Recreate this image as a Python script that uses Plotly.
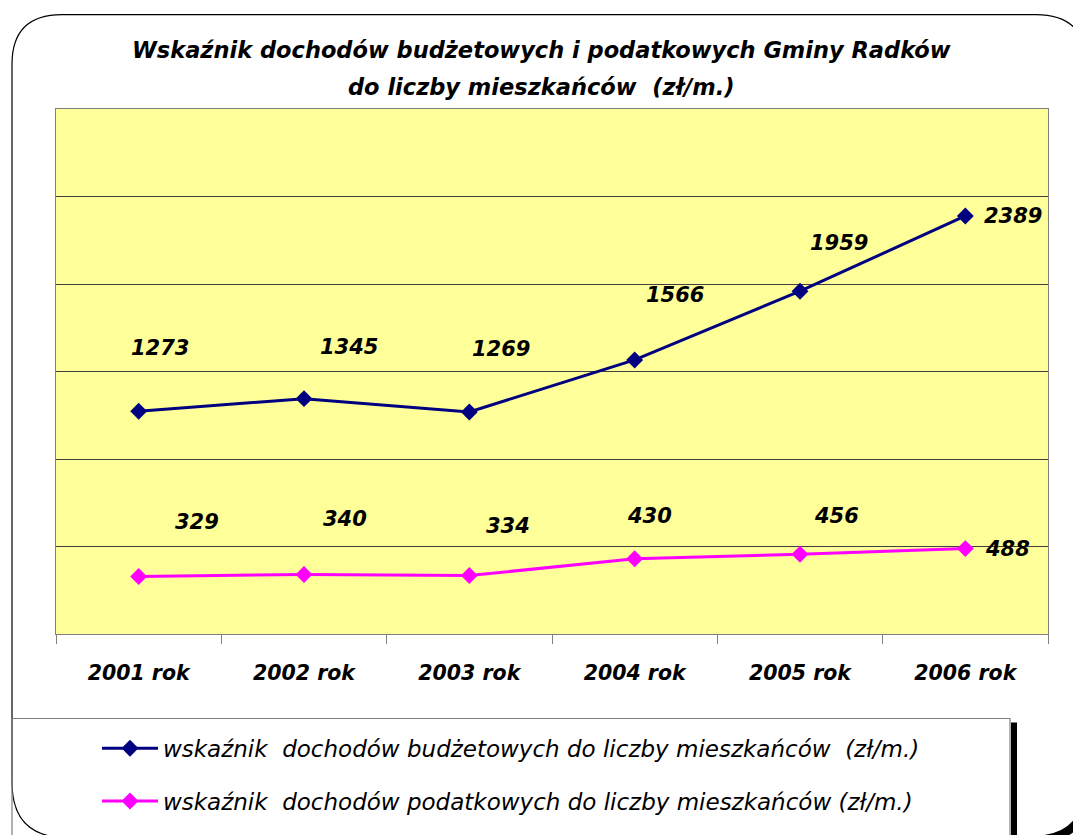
import plotly.graph_objects as go

categories = ["2001 rok", "2002 rok", "2003 rok", "2004 rok", "2005 rok", "2006 rok"]
budget_values = [1273, 1345, 1269, 1566, 1959, 2389]
tax_values = [329, 340, 334, 430, 456, 488]
budget_name = "wskaźnik  dochodów budżetowych do liczby mieszkańców  (zł/m.)"
tax_name = "wskaźnik  dochodów podatkowych do liczby mieszkańców (zł/m.)"
title_line1 = "Wskaźnik dochodów budżetowych i podatkowych Gminy Radków"
title_line2 = "do liczby mieszkańców  (zł/m.)"

# label offsets in pixels (dx, dy up)
budget_label_offsets = [(21, 63), (45, 52), (32, 63), (40, 65), (39, 48), (48, 0)]
tax_label_offsets = [(58, 54), (41, 56), (39, 50), (15, 43), (36, 38), (42, 0)]

# page has an 8px body margin
OFF = 8
W, H = 1081 - OFF, 835 - OFF
# target plot area in screenshot pixels
L, R, T, B = 56, 1048, 109, 637
PW, PH = R - L, B - T


def px(x):
    return (x - L) / PW


def py(y):
    return (B - y) / PH


def P(x, y):
    return f"{px(x):.5f},{py(y):.5f}"


NAVY = "#000080"
MAG = "#FF00FF"
FONT = "DejaVu Sans"

fig = go.Figure()
fig.add_trace(go.Scatter(
    x=categories, y=budget_values, name=budget_name, mode="lines+markers",
    line=dict(color=NAVY, width=3), marker=dict(symbol="diamond", size=13, color=NAVY),
    legend="legend", hoverinfo="skip"))
fig.add_trace(go.Scatter(
    x=categories, y=tax_values, name=tax_name, mode="lines+markers",
    line=dict(color=MAG, width=3), marker=dict(symbol="diamond", size=13, color=MAG),
    legend="legend2", hoverinfo="skip"))

annotations = []
for vals, offs in ((budget_values, budget_label_offsets), (tax_values, tax_label_offsets)):
    for c, v, (dx, dy) in zip(categories, vals, offs):
        annotations.append(dict(
            x=c, y=v, xref="x", yref="y", text=f"<b><i>{v}</i></b>", showarrow=False,
            xshift=dx, yshift=dy, font=dict(family=FONT, size=21, color="#000000")))

annotations.append(dict(x=px(541), y=py(50), xref="paper", yref="paper",
                        text=f"<b><i>{title_line1}</i></b>", showarrow=False,
                        xanchor="center", yanchor="middle",
                        font=dict(family=FONT, size=22.5, color="#000000")))
annotations.append(dict(x=px(541), y=py(87), xref="paper", yref="paper",
                        text=f"<b><i>{title_line2}</i></b>", showarrow=False,
                        xanchor="center", yanchor="middle",
                        font=dict(family=FONT, size=22.5, color="#000000")))

# outer rounded frame
fl, ft, fr, fb, rr = 12, 14, 1086, 842, 56
frame_path = (f"M {P(fl+50, ft)} L {P(fr-50, ft)} Q {P(fr, ft)} {P(fr, ft+50)} "
              f"L {P(fr, fb-rr)} Q {P(fr, fb)} {P(fr-rr, fb)} L {P(fl+rr, fb)} "
              f"Q {P(fl, fb)} {P(fl, fb-rr)} L {P(fl, ft+50)} Q {P(fl, ft)} {P(fl+50, ft)} Z")
o = 2
shadow_path = (f"M {P(fr+o, ft+50+o)} L {P(fr+o, fb-rr+o)} Q {P(fr+o, fb+o)} {P(fr-rr+o, fb+o)}")

shapes = [
    dict(type="path", path=shadow_path, xref="paper", yref="paper",
         line=dict(color="#000000", width=8), layer="below"),
    dict(type="path", path=frame_path, xref="paper", yref="paper",
         line=dict(color="#000000", width=1.2), layer="below"),
    # legend box
    dict(type="rect", xref="paper", yref="paper", x0=px(12), x1=px(1010), y0=py(722), y1=py(850),
         line=dict(color="#808080", width=1.2), layer="below"),
    # legend shadow
    dict(type="rect", xref="paper", yref="paper", x0=px(1011), x1=px(1017), y0=py(726), y1=py(850),
         line=dict(width=0), fillcolor="#000000", layer="below"),
]

legend_font = dict(family=FONT, size=23, color="#000000", style="italic")

fig.update_layout(
    width=W, height=H,
    margin=dict(l=L - OFF, r=1081 - R, t=T - OFF, b=835 - B, pad=0),
    paper_bgcolor="#FFFFFF", plot_bgcolor="#FFFF99",
    showlegend=True,
    legend=dict(x=px(97), y=py(752), xanchor="left", yanchor="middle",
                bgcolor="rgba(0,0,0,0)", borderwidth=0,
                font=legend_font, itemwidth=56),
    legend2=dict(x=px(97), y=py(805), xanchor="left", yanchor="middle",
                 bgcolor="rgba(0,0,0,0)", borderwidth=0,
                 font=legend_font, itemwidth=56),
    annotations=annotations,
    shapes=shapes,
    xaxis=dict(type="category", range=[-0.5, 5.5], tickson="boundaries",
               ticks="outside", ticklen=9, tickcolor="#808080", tickwidth=1,
               showline=True, linecolor="#808080", linewidth=1, mirror=True,
               showgrid=False, fixedrange=True,
               tickfont=dict(family=FONT, size=20.5, color="#000000"),
               tickprefix="<b><i>", ticksuffix="</i></b>", ticklabelstandoff=20),
    yaxis=dict(range=[0, 3000], dtick=500, showticklabels=False, ticks="",
               showgrid=True, gridcolor="#404040", gridwidth=1,
               zeroline=False, showline=True, linecolor="#808080", linewidth=1,
               mirror=True, fixedrange=True),
)

fig.write_html("out.html")
